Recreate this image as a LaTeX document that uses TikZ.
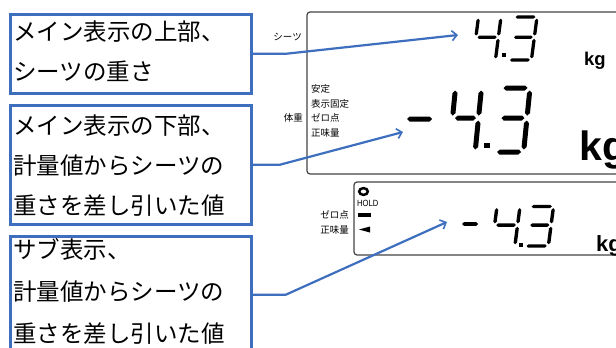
\documentclass[tikz,border=0pt]{standalone}
\usepackage{fontspec}
\setmainfont{Liberation Sans}
\newfontfamily\jp{Noto Sans CJK JP}
\usetikzlibrary{arrows.meta}
\definecolor{bl}{HTML}{3E6FBF}
\definecolor{fr}{HTML}{454545}
\newcommand\SSt{4}
\newcommand\hs[3]{\fill ({#1},{#3}) -- ({#1+\SSt/2},{#3-\SSt/2}) -- ({#2-\SSt/2},{#3-\SSt/2}) -- ({#2},{#3}) -- ({#2-\SSt/2},{#3+\SSt/2}) -- ({#1+\SSt/2},{#3+\SSt/2}) -- cycle;}
\newcommand\vs[3]{\fill ({#1},{#2}) -- ({#1+\SSt/2},{#2+\SSt/2}) -- ({#1+\SSt/2},{#3-\SSt/2}) -- ({#1},{#3}) -- ({#1-\SSt/2},{#3-\SSt/2}) -- ({#1-\SSt/2},{#2+\SSt/2}) -- cycle;}
% x y w h t slant
\newcommand\dfour[6]{\begin{scope}[shift={(#1,#2)},xslant=#6]
 \renewcommand\SSt{#5}\pgfmathsetmacro\G{#5*0.5}\pgfmathsetmacro\W{#3}\pgfmathsetmacro\H{#4}\pgfmathsetmacro\M{#4*0.47}
 \vs{0}{\G}{\M-\G}
 \hs{\G}{\W-\G}{\M}
 \vs{\W}{\G}{\M-\G}
 \vs{\W}{\M+\G}{\H-\G}
\end{scope}}
\newcommand\dthree[6]{\begin{scope}[shift={(#1,#2)},xslant=#6]
 \renewcommand\SSt{#5}\pgfmathsetmacro\G{#5*0.5}\pgfmathsetmacro\W{#3}\pgfmathsetmacro\H{#4}\pgfmathsetmacro\M{#4*0.47}
 \hs{\G}{\W-\G}{0}
 \vs{\W}{\G}{\M-\G}
 \hs{\G+1}{\W-\G}{\M}
 \vs{\W}{\M+\G}{\H-\G}
 \hs{\G}{\W-\G}{\H}
\end{scope}}
\newcommand\dminus[4]{\begin{scope}\renewcommand\SSt{#4}\hs{#1}{#2}{#3}\end{scope}}
\tikzset{
 descbox/.style={draw=bl, line width=2.6pt, inner sep=0pt, anchor=north west},
 desctext/.style={inner sep=0pt, anchor=west, align=left, font=\jp\fontsize{23.5}{40}\selectfont},
 conn/.style={draw=bl, line width=2.2pt, -{Straight Barb[length=5pt,width=10pt,line width=1.6pt]}},
 frame/.style={draw=fr, line width=1.2pt, rounded corners=3pt},
 lbl/.style={inner sep=0pt, font=\jp\fontsize{9.5}{9.5}\selectfont},
 kg/.style={inner sep=0pt, anchor=base west, font=\bfseries\fontsize{#1}{#1}\selectfont},
}
\begin{document}
\begin{tikzpicture}[x=1pt,y=-1pt]
\clip (0,0) rectangle (616,348);
\fill[white] (0,0) rectangle (616,348);
% description boxes
\node[descbox, minimum width=241pt, minimum height=79pt] (b1) at (9,13) {};
\node[descbox, minimum width=241pt, minimum height=119pt] (b2) at (9,104) {};
\node[descbox, minimum width=241pt, minimum height=117pt] (b3) at (9,235) {};
\node[desctext] (t1) at (13,51) {メイン表示の上部、\\シーツの重さ};
\node[desctext] (t2) at (13,166) {メイン表示の下部、\\計量値からシーツの\\重さを差し引いた値};
\node[desctext, font=\jp\fontsize{23.5}{42}\selectfont] (t3) at (13,291) {サブ表示、\\計量値からシーツの\\重さを差し引いた値};
% display frames
\draw[frame] (307,12) rectangle (640,174);
\draw[frame] (354,182) rectangle (640,255);
% labels main
\node[lbl, anchor=east] (lsheet) at (302,37) {シーツ};
\node[lbl, anchor=west] (lstab) at (311,89) {安定};
\node[lbl, anchor=west] (lhold) at (311,103.5) {表示固定};
\node[lbl, anchor=west] (lzero) at (311,118) {ゼロ点};
\node[lbl, anchor=west] (lnet) at (311,133) {正味量};
\node[lbl, anchor=east] (lbody) at (303,118) {体重};
% labels sub
\node[lbl, anchor=east] (szero) at (349,215) {ゼロ点};
\node[lbl, anchor=east] (snet) at (349,230) {正味量};
\draw[line width=2.5pt] (363.5,191.5) ellipse (4.3 and 3.4);
\node[inner sep=0pt, anchor=west, font=\fontsize{9}{9}\selectfont, xscale=0.85] (shold) at (357,203) {HOLD};
\fill (357.5,212.5) rectangle (371,216.5);
\fill (359,229.5) -- (370,226.5) -- (370,232.5) -- cycle;
% digits top
\dfour{478.5}{17}{22.5}{43}{3.3}{0.13}
\fill (501.5,53) rectangle (505.5,57);
\dthree{514}{17}{23}{43}{3.3}{0.13}
\node[kg=18.5] (kg1) at (584,65) {kg};
% digits bottom
\dminus{407}{432}{119}{5}
\dfour{455.5}{88}{26}{64}{5}{0.1}
\fill (484,142.5) rectangle (489.5,148);
\dthree{501}{88}{29}{64}{5}{0.1}
\node[kg=41] (kg2) at (579,160) {kg};
% digits sub
\dminus{462}{478}{224}{3.8}
\dfour{497}{206.5}{23}{39.5}{3.4}{0.13}
\fill (518.5,242.5) rectangle (522.5,246.5);
\dthree{530}{206.5}{23.5}{39.5}{3.4}{0.13}
\node[kg=22] (kg3) at (596,251.5) {kg};
% connectors
\coordinate (a1) at (458,35);
\coordinate (a2) at (403,132);
\coordinate (a3) at (447,222);
\draw[conn] (b1.east) -- ++(33,0) -- (a1);
\draw[conn] (b2.east) -- ++(27,0) -- (a2);
\draw[conn] (b3.east) -- ++(33,0) -- (a3);
\end{tikzpicture}
\end{document}
